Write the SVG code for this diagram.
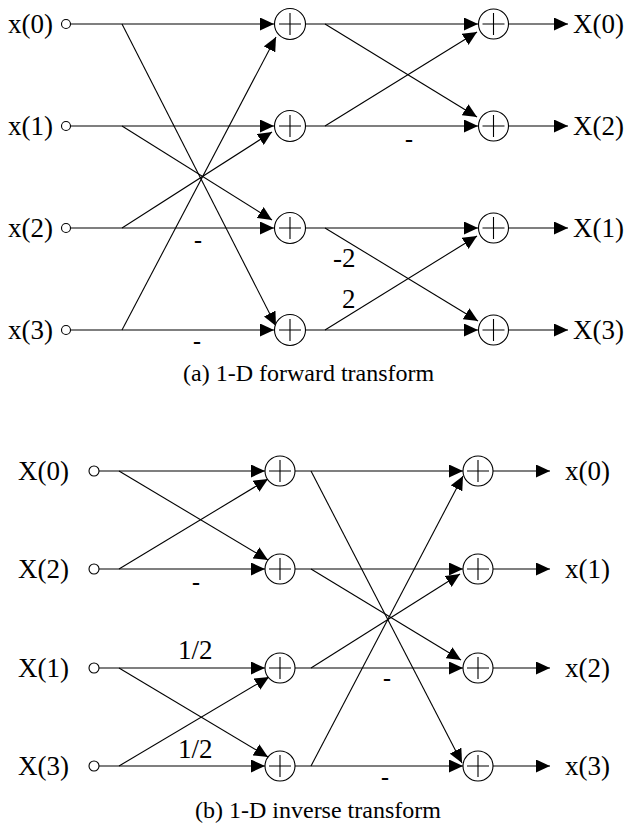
<svg xmlns="http://www.w3.org/2000/svg" width="626" height="826" viewBox="0 0 626 826">
<defs>
<marker id="ah" markerWidth="14" markerHeight="13" refX="14" refY="6.5" orient="auto" markerUnits="userSpaceOnUse"><path d="M0,0 L14,6.5 L0,13 z" fill="#000"/></marker>
<style>
.t{font-family:"Liberation Serif","Times New Roman",serif;font-size:27px;fill:#000}
.cap{font-family:"Liberation Serif","Times New Roman",serif;font-size:24px;fill:#000}
.d{font-family:"Liberation Serif","Times New Roman",serif;font-size:24px;font-weight:bold;fill:#000;text-anchor:middle}
.c{fill:#fff;stroke:#000;stroke-width:1.1}
.p{stroke:#000;stroke-width:1.1}
.w{fill:none;stroke:#000;stroke-width:1.1}
.a{fill:none;stroke:#000;stroke-width:1.1;marker-end:url(#ah)}
</style>
</defs>
<rect width="626" height="826" fill="#fff"/>
<g id="connectors">
<!-- (a) inputs to stage 1 -->
<path class="a" d="M70.5,24 H274"/>
<path class="a" d="M70.5,126 H274"/>
<path class="a" d="M70.5,228 H274"/>
<path class="a" d="M70.5,330 H274"/>
<path class="a" d="M122,24 L276,326"/>
<path class="a" d="M122,330 L276,37"/>
<path class="a" d="M122,126 L272,220"/>
<path class="a" d="M122,228 L272,132"/>
<!-- (a) stage 2 -->
<path class="a" d="M305.5,24 H478"/>
<path class="a" d="M305.5,126 H478"/>
<path class="a" d="M305.5,228 H478"/>
<path class="a" d="M305.5,330 H478"/>
<path class="a" d="M325,24 L477,117"/>
<path class="a" d="M325,126 L477,32"/>
<path class="a" d="M325,228 L478,321"/>
<path class="a" d="M325,330 L477,236"/>
<!-- (a) outputs -->
<path class="a" d="M508.5,24 H568"/>
<path class="a" d="M508.5,126 H568"/>
<path class="a" d="M508.5,228 H568"/>
<path class="a" d="M508.5,330 H568"/>
<!-- (b) inputs to stage 1 -->
<path class="a" d="M99,471 H265"/>
<path class="a" d="M99,569 H265"/>
<path class="a" d="M99,668 H265"/>
<path class="a" d="M99,766 H265"/>
<path class="a" d="M119,471 L268,560"/>
<path class="a" d="M119,569 L268,479"/>
<path class="a" d="M119,668 L268,757"/>
<path class="a" d="M119,766 L269,677"/>
<!-- (b) stage 2 -->
<path class="a" d="M295,471 H463"/>
<path class="a" d="M295,569 H463"/>
<path class="a" d="M295,668 H463"/>
<path class="a" d="M295,766 H463"/>
<path class="a" d="M311,471 L462,763"/>
<path class="a" d="M311,766 L463,476"/>
<path class="a" d="M311,569 L461,660"/>
<path class="a" d="M311,668 L460,574"/>
<!-- (b) outputs -->
<path class="a" d="M493,471 H550"/>
<path class="a" d="M493,569 H550"/>
<path class="a" d="M493,668 H550"/>
<path class="a" d="M493,766 H550"/>
</g>
<g id="edge-labels">
<text class="d" x="198" y="248">-</text>
<text class="d" x="197" y="349">-</text>
<text class="d" x="409" y="147">-</text>
<text class="t" x="333" y="267">-2</text>
<text class="t" x="342" y="308">2</text>
<text class="d" x="196" y="590">-</text>
<text class="d" x="387" y="686">-</text>
<text class="d" x="385" y="785">-</text>
<text class="t" x="178" y="659">1/2</text>
<text class="t" x="178" y="758">1/2</text>
</g>
<!-- (a) input nodes -->
<g id="in_a0"><text class="t" x="8" y="33">x(0)</text><circle class="c" cx="66" cy="24" r="4.5"/></g>
<g id="in_a1"><text class="t" x="8" y="135">x(1)</text><circle class="c" cx="66" cy="126" r="4.5"/></g>
<g id="in_a2"><text class="t" x="8" y="237">x(2)</text><circle class="c" cx="66" cy="228" r="4.5"/></g>
<g id="in_a3"><text class="t" x="8" y="339">x(3)</text><circle class="c" cx="66" cy="330" r="4.5"/></g>
<!-- (a) adders stage 1 -->
<g id="add_a1_0"><circle class="c" cx="290" cy="24" r="15.5"/><path class="p" d="M279,24 H301 M290,13 V35"/></g>
<g id="add_a1_1"><circle class="c" cx="290" cy="126" r="15.5"/><path class="p" d="M279,126 H301 M290,115 V137"/></g>
<g id="add_a1_2"><circle class="c" cx="290" cy="228" r="15.5"/><path class="p" d="M279,228 H301 M290,217 V239"/></g>
<g id="add_a1_3"><circle class="c" cx="290" cy="330" r="15.5"/><path class="p" d="M279,330 H301 M290,319 V341"/></g>
<!-- (a) adders stage 2 -->
<g id="add_a2_0"><circle class="c" cx="493.5" cy="24" r="15"/><path class="p" d="M482.5,24 H504.5 M493.5,13 V35"/></g>
<g id="add_a2_1"><circle class="c" cx="493.5" cy="126" r="15"/><path class="p" d="M482.5,126 H504.5 M493.5,115 V137"/></g>
<g id="add_a2_2"><circle class="c" cx="493.5" cy="228" r="15"/><path class="p" d="M482.5,228 H504.5 M493.5,217 V239"/></g>
<g id="add_a2_3"><circle class="c" cx="493.5" cy="330" r="15"/><path class="p" d="M482.5,330 H504.5 M493.5,319 V341"/></g>
<!-- (a) outputs -->
<g id="out_a0"><text class="t" x="573" y="33">X(0)</text></g>
<g id="out_a1"><text class="t" x="573" y="135">X(2)</text></g>
<g id="out_a2"><text class="t" x="573" y="237">X(1)</text></g>
<g id="out_a3"><text class="t" x="573" y="339">X(3)</text></g>
<g id="caption_a"><text class="cap" x="183" y="381">(a) 1-D forward transform</text></g>
<!-- (b) input nodes -->
<g id="in_b0"><text class="t" x="18" y="480">X(0)</text><circle class="c" cx="94" cy="471" r="5"/></g>
<g id="in_b1"><text class="t" x="18" y="578">X(2)</text><circle class="c" cx="94" cy="569" r="5"/></g>
<g id="in_b2"><text class="t" x="18" y="677">X(1)</text><circle class="c" cx="94" cy="668" r="5"/></g>
<g id="in_b3"><text class="t" x="18" y="775">X(3)</text><circle class="c" cx="94" cy="766" r="5"/></g>
<!-- (b) adders stage 1 -->
<g id="add_b1_0"><circle class="c" cx="280" cy="471" r="15"/><path class="p" d="M269,471 H291 M280,460 V482"/></g>
<g id="add_b1_1"><circle class="c" cx="280" cy="569" r="15"/><path class="p" d="M269,569 H291 M280,558 V580"/></g>
<g id="add_b1_2"><circle class="c" cx="280" cy="668" r="15"/><path class="p" d="M269,668 H291 M280,657 V679"/></g>
<g id="add_b1_3"><circle class="c" cx="280" cy="766" r="15"/><path class="p" d="M269,766 H291 M280,755 V777"/></g>
<!-- (b) adders stage 2 -->
<g id="add_b2_0"><circle class="c" cx="478" cy="471" r="15"/><path class="p" d="M467,471 H489 M478,460 V482"/></g>
<g id="add_b2_1"><circle class="c" cx="478" cy="569" r="15"/><path class="p" d="M467,569 H489 M478,558 V580"/></g>
<g id="add_b2_2"><circle class="c" cx="478" cy="668" r="15"/><path class="p" d="M467,668 H489 M478,657 V679"/></g>
<g id="add_b2_3"><circle class="c" cx="478" cy="766" r="15"/><path class="p" d="M467,766 H489 M478,755 V777"/></g>
<!-- (b) outputs -->
<g id="out_b0"><text class="t" x="565" y="480">x(0)</text></g>
<g id="out_b1"><text class="t" x="565" y="578">x(1)</text></g>
<g id="out_b2"><text class="t" x="565" y="677">x(2)</text></g>
<g id="out_b3"><text class="t" x="565" y="775">x(3)</text></g>
<g id="caption_b"><text class="cap" x="195" y="818">(b) 1-D inverse transform</text></g>
</svg>
